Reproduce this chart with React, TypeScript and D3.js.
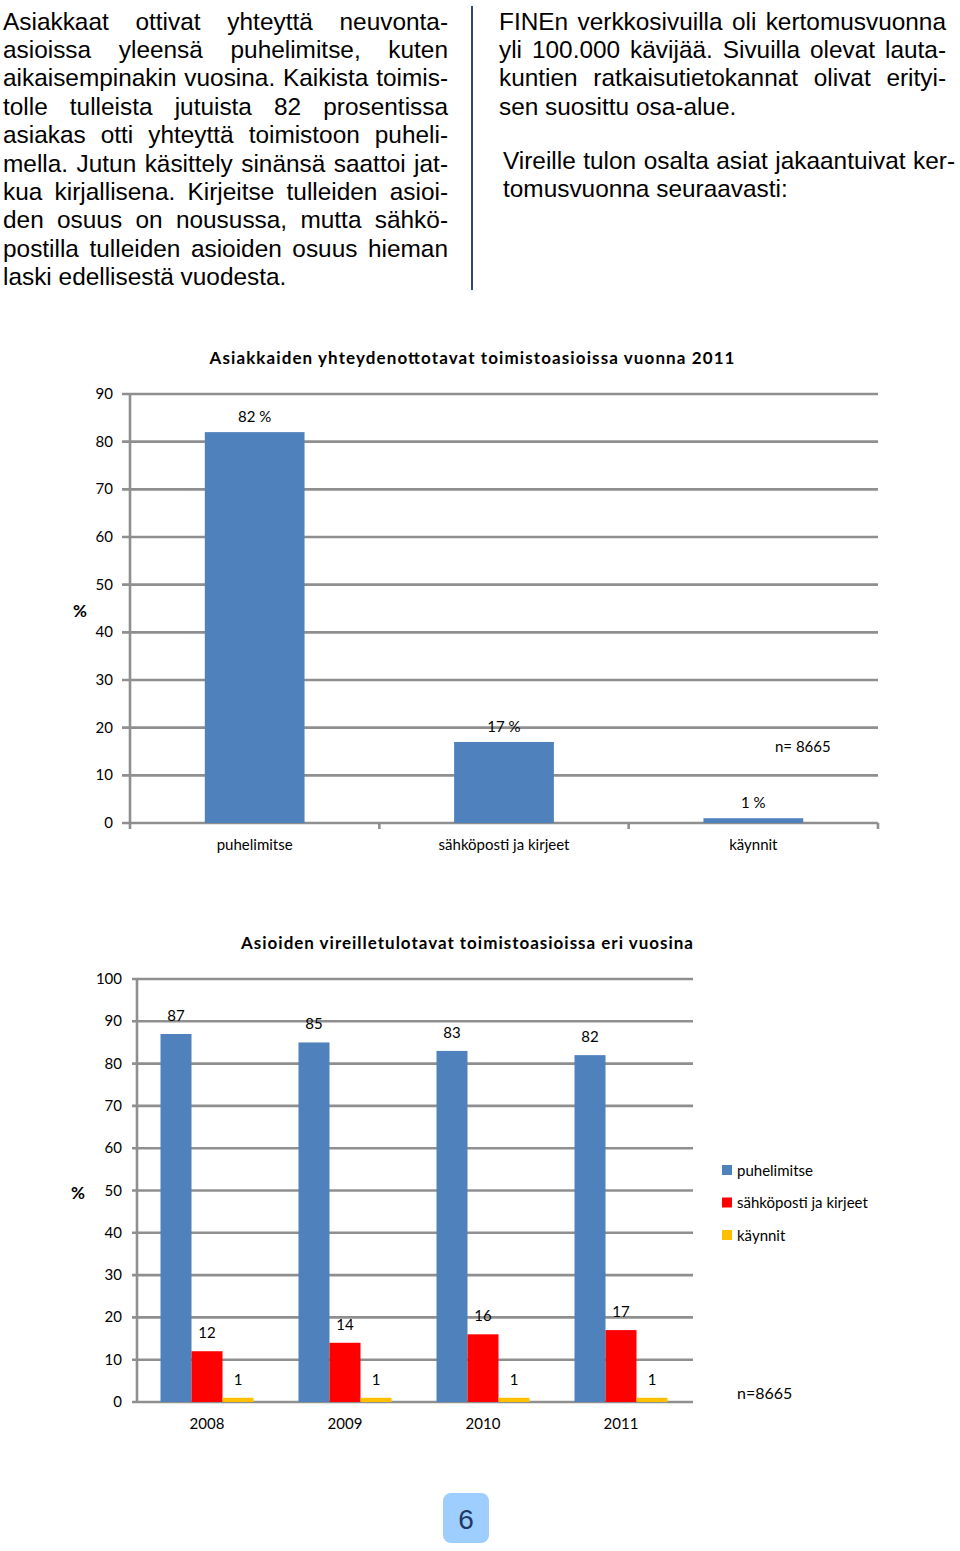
import React, { useMemo } from "react";
import * as d3 from "d3";

// ---------- text content ----------
const leftLines = [
  "Asiakkaat ottivat yhteyttä neuvonta-",
  "asioissa yleensä puhelimitse, kuten",
  "aikaisempinakin vuosina. Kaikista toimis-",
  "tolle tulleista jutuista 82 prosentissa",
  "asiakas otti yhteyttä toimistoon puheli-",
  "mella. Jutun käsittely sinänsä saattoi jat-",
  "kua kirjallisena. Kirjeitse tulleiden asioi-",
  "den osuus on nousussa, mutta sähkö-",
  "postilla tulleiden asioiden osuus hieman",
  "laski edellisestä vuodesta.",
];
const rightLines = [
  "FINEn verkkosivuilla oli kertomusvuonna",
  "yli 100.000 kävijää. Sivuilla olevat lauta-",
  "kuntien ratkaisutietokannat olivat erityi-",
  "sen suosittu osa-alue.",
];
const rightLines2 = [
  "Vireille tulon osalta asiat jakaantuivat ker-",
  "tomusvuonna seuraavasti:",
];

// ---------- chart 1 data ----------
const chart1Title = "Asiakkaiden yhteydenottotavat toimistoasioissa vuonna 2011";
const chart1Categories = ["puhelimitse", "sähköposti ja kirjeet", "käynnit"];
const chart1Values = [82, 17, 1];
const chart1Labels = ["82 %", "17 %", "1 %"];
const chart1Ticks = [0, 10, 20, 30, 40, 50, 60, 70, 80, 90];
const chart1N = "n= 8665";

// ---------- chart 2 data ----------
const chart2Title = "Asioiden vireilletulotavat toimistoasioissa eri vuosina";
const chart2Years = ["2008", "2009", "2010", "2011"];
const chart2Series = ["puhelimitse", "sähköposti ja kirjeet", "käynnit"];
const chart2Phone = [87, 85, 83, 82];
const chart2Mail = [12, 14, 16, 17];
const chart2Visit = [1, 1, 1, 1];
const chart2Ticks = [0, 10, 20, 30, 40, 50, 60, 70, 80, 90, 100];
const chart2N = "n=8665";
const pageNumber = "6";

const seriesColors = ["#4f81bd", "#ff0000", "#ffc000"];
const GRID = "#8f8f8f";
const CHART_FONT = "Lato, 'Open Sans', sans-serif";
const BODY_FONT = "'Liberation Sans', Arial, sans-serif";
const BODY_SIZE = 24.4;

let _ctx: CanvasRenderingContext2D | null = null;
function measure(text: string, font: string): number {
  if (!_ctx) {
    const c = document.createElement("canvas");
    _ctx = c.getContext("2d");
  }
  if (!_ctx) return text.length * 12;
  _ctx.font = font;
  return _ctx.measureText(text).width;
}

function JustLine({ text, x, y, width, justify }: { text: string; x: number; y: number; width: number; justify: boolean }) {
  const font = `${BODY_SIZE}px 'Liberation Sans'`;
  const words = text.split(" ");
  let ws = 0;
  if (justify && words.length > 1) {
    const natural = measure(text, font);
    ws = (width - natural) / (words.length - 1);
  }
  return (
    <text x={x} y={y} fontFamily={BODY_FONT} fontSize={BODY_SIZE} fill="#000" style={{ wordSpacing: `${ws}px`, whiteSpace: "pre" }}>
      {text}
    </text>
  );
}

function Chart1() {
  const x = d3.scaleBand<string>().domain(chart1Categories).range([130, 878]).paddingInner(0).paddingOuter(0);
  const y = d3.scaleLinear().domain([0, 90]).range([823, 394]);
  const bw = x.bandwidth();
  const boundaries = [...chart1Categories.map((c) => x(c) as number), 878];
  return (
    <g>
      <text x={472} y={364} textAnchor="middle" fontFamily={CHART_FONT} fontWeight="bold" fontSize={17} textLength={525} lengthAdjust="spacing">
        {chart1Title}
      </text>
      {chart1Ticks.map((t) => (
        <g key={t}>
          <line x1={122} x2={878} y1={y(t)} y2={y(t)} stroke={GRID} strokeWidth={2.6} />
          <text x={113} y={y(t) + 5} textAnchor="end" fontFamily={CHART_FONT} fontSize={15} fill="#000">
            {t}
          </text>
        </g>
      ))}
      <line x1={130} x2={130} y1={y(90)} y2={y(0) + 6} stroke={GRID} strokeWidth={2.6} />
      {boundaries.slice(1).map((b, i) => (
        <line key={i} x1={b} x2={b} y1={y(0)} y2={y(0) + 6} stroke={GRID} strokeWidth={2.6} />
      ))}
      {chart1Categories.map((c, i) => (
        <g key={c}>
          <rect x={(x(c) as number) + bw * 0.3} width={bw * 0.4} y={y(chart1Values[i])} height={y(0) - y(chart1Values[i])} fill={seriesColors[0]} />
          <text x={(x(c) as number) + bw / 2} y={y(chart1Values[i]) - 10} textAnchor="middle" fontFamily={CHART_FONT} fontSize={15}>
            {chart1Labels[i]}
          </text>
          <text x={(x(c) as number) + bw / 2} y={850} textAnchor="middle" fontFamily={CHART_FONT} fontSize={15}>
            {c}
          </text>
        </g>
      ))}
      <text x={80} y={617} textAnchor="middle" fontFamily={CHART_FONT} fontWeight="bold" fontSize={17}>%</text>
      <text x={775} y={752} fontFamily={CHART_FONT} fontSize={15}>{chart1N}</text>
    </g>
  );
}

function Chart2() {
  const x0 = d3.scaleBand<string>().domain(chart2Years).range([138, 690]).paddingInner(0).paddingOuter(0);
  const groupW = 93;
  const x1 = d3.scaleBand<string>().domain(chart2Series).range([0, groupW]).padding(0);
  const y = d3.scaleLinear().domain([0, 100]).range([1402, 979]);
  const seriesVals = [chart2Phone, chart2Mail, chart2Visit];
  const off = (x0.bandwidth() - groupW) / 2;
  return (
    <g>
      <text x={467} y={949} textAnchor="middle" fontFamily={CHART_FONT} fontWeight="bold" fontSize={17} textLength={452} lengthAdjust="spacing">
        {chart2Title}
      </text>
      {chart2Ticks.map((t) => (
        <g key={t}>
          <line x1={132} x2={693} y1={y(t)} y2={y(t)} stroke={GRID} strokeWidth={2.6} />
          <text x={122} y={y(t) + 5} textAnchor="end" fontFamily={CHART_FONT} fontSize={15}>
            {t}
          </text>
        </g>
      ))}
      <line x1={137} x2={137} y1={y(100)} y2={y(0)} stroke={GRID} strokeWidth={2.6} />
      {chart2Years.map((yr, gi) => (
        <g key={yr}>
          {chart2Series.map((s, si) => {
            const v = seriesVals[si][gi];
            const bx = (x0(yr) as number) + off + (x1(s) as number);
            return (
              <g key={s}>
                <rect x={bx} width={x1.bandwidth()} y={y(v)} height={y(0) - y(v)} fill={seriesColors[si]} />
                <text x={bx + x1.bandwidth() / 2} y={y(v) - 13} textAnchor="middle" fontFamily={CHART_FONT} fontSize={15}>
                  {v}
                </text>
              </g>
            );
          })}
          <text x={(x0(yr) as number) + x0.bandwidth() / 2} y={1429} textAnchor="middle" fontFamily={CHART_FONT} fontSize={15}>
            {yr}
          </text>
        </g>
      ))}
      <text x={78} y={1199} textAnchor="middle" fontFamily={CHART_FONT} fontWeight="bold" fontSize={17}>%</text>
      {chart2Series.map((s, i) => (
        <g key={s}>
          <rect x={722} y={1165 + i * 32.5} width={10} height={10} fill={seriesColors[i]} />
          <text x={737} y={1175.5 + i * 32.5} fontFamily={CHART_FONT} fontSize={15}>{s}</text>
        </g>
      ))}
      <text x={737} y={1399} fontFamily={CHART_FONT} fontSize={16}>{chart2N}</text>
    </g>
  );
}

export default function App() {
  const left = useMemo(() => leftLines, []);
  return (
    <svg width={960} height={1551} style={{ position: "absolute", left: 0, top: 0, background: "#fff" }}>
      <rect width={960} height={1551} fill="#fff" />
      {left.map((l, i) => (
        <JustLine key={i} text={l} x={3} y={29.5 + i * 28.4} width={445} justify={i < left.length - 1} />
      ))}
      <line x1={472} x2={472} y1={6} y2={290} stroke="#2e4a6a" strokeWidth={2} />
      {rightLines.map((l, i) => (
        <JustLine key={i} text={l} x={499} y={29.5 + i * 28.4} width={447} justify={i < rightLines.length - 1} />
      ))}
      {rightLines2.map((l, i) => (
        <JustLine key={i} text={l} x={503} y={169 + i * 28.4} width={452} justify={i < rightLines2.length - 1} />
      ))}
      <Chart1 />
      <Chart2 />
      <rect x={443} y={1493} width={46} height={50} rx={8} fill="#9ecdff" />
      <text x={466} y={1529} textAnchor="middle" fontFamily="'Liberation Sans Narrow', 'Liberation Sans', sans-serif" fontSize={28} fill="#1f3864">
        {pageNumber}
      </text>
    </svg>
  );
}
